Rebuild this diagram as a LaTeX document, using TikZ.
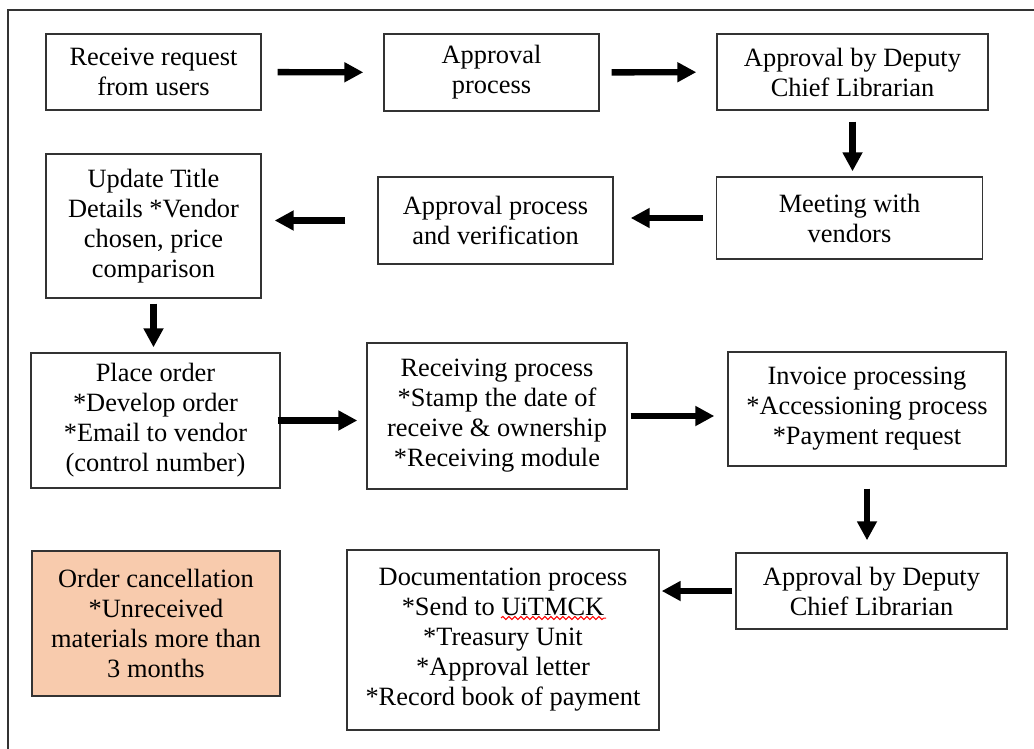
\documentclass[tikz,border=0pt]{standalone}
\usepackage{fontspec}
\setmainfont{Liberation Serif}
\usetikzlibrary{arrows.meta,decorations.pathmorphing}
\definecolor{cancelfill}{HTML}{F8CBAD}
\definecolor{boxline}{HTML}{333333}

\begin{document}
\begin{tikzpicture}[x=0.5pt, y=-0.5pt,
    stepbox/.style={rectangle, draw=boxline, line width=0.7pt, align=center, inner sep=0pt,
        font=\fontsize{13.2}{15}\selectfont},
    flow/.style={-{Triangle[length=9.5pt, width=9.5pt]}, line width=3.2pt, black}]
            \useasboundingbox (0,0) rectangle (1034,749);
            % Frame
            \draw[boxline, line width=0.7pt] (1034,10) -- (8,10) -- (8,749);

            % Row 1
            \node[stepbox, minimum width=107.5pt, minimum height=38pt] (rcv) at (153.5,72)
                {Receive request\\from users};
            \node[stepbox, minimum width=107.5pt, minimum height=38.5pt] (appr) at (491.5,72.5)
                {Approval\\process};
            \node[stepbox, minimum width=135.5pt, minimum height=38pt] (deputy) at (852.5,72)
                {Approval by Deputy\\Chief Librarian};
            \draw[flow, shorten <=8pt, shorten >=10pt] (rcv) -- (appr);
            \draw[flow, shorten <=6pt, shorten >=10pt] (appr) -- (deputy);

            % Row 2
            \node[stepbox, minimum width=133pt, minimum height=41pt] (meet) at (849.5,218)
                {Meeting with\\vendors};
            \node[stepbox, minimum width=117.5pt, minimum height=43.5pt] (verif) at (495.5,220.5)
                {Approval process\\and verification};
            \node[stepbox, minimum width=107.5pt, minimum height=72pt] (update) at (153.5,226)
                {Update Title\\Details *Vendor\\chosen, price\\comparison};
            \draw[flow, shorten <=5.5pt, shorten >=2.5pt] (deputy.south) -- (deputy.south |- meet.north);
            \draw[flow, shorten <=6.5pt, shorten >=8.5pt] (meet.west) -- (meet.west -| verif.east);
            \draw[flow, shorten <=16pt, shorten >=6.5pt] (verif.west) -- (verif.west -| update.east);

            % Row 3
            \node[stepbox, minimum width=124.5pt, minimum height=67.5pt] (place) at (155.5,420.5)
                {\raisebox{-4pt}{\begin{tabular}{@{}c@{}}Place order\\{*}Develop order\\{*}Email to vendor\\(control number)\end{tabular}}};
            \node[stepbox, minimum width=130pt, minimum height=73pt] (recvp) at (497,416)
                {Receiving process\\*Stamp the date of\\receive \& ownership\\*Receiving module};
            \node[stepbox, minimum width=139pt, minimum height=57pt] (invoice) at (867,409)
                {Invoice processing\\*Accessioning process\\*Payment request};
            \draw[flow, shorten <=2.5pt, shorten >=2.5pt] (update.south) -- (update.south |- place.north);
            \draw[flow, shorten <=-1.5pt, shorten >=4.5pt] (place.east) -- (place.east -| recvp.west);
            \draw[flow, shorten <=1.5pt, shorten >=6.5pt] (recvp.east) -- (recvp.east -| invoice.west);

            % Row 4
            \node[stepbox, minimum width=135.5pt, minimum height=38pt] (deputy2) at (871.5,591)
                {Approval by Deputy\\Chief Librarian};
            \node[stepbox, minimum width=156pt, minimum height=90pt] (doc) at (503,640)
                {Documentation process\\*Send to UiTMCK\\*Treasury Unit\\*Approval letter\\*Record book of payment};
            \node[stepbox, fill=cancelfill, minimum width=124pt, minimum height=72.5pt] (cancel) at (156,623.5)
                {Order cancellation\\*Unreceived\\materials more than\\3 months};
            \draw[flow, shorten <=11pt, shorten >=6pt] (invoice.south) -- (invoice.south |- deputy2.north);
            \draw[flow, shorten <=1.5pt, shorten >=1pt] (deputy2.west) -- (deputy2.west -| doc.east);

            % Spelling mark
            \draw[red, line width=0.5pt, decorate, decoration={snake, amplitude=0.8pt, segment length=3pt}]
                (501,618) -- (606,618);
\end{tikzpicture}
\end{document}
